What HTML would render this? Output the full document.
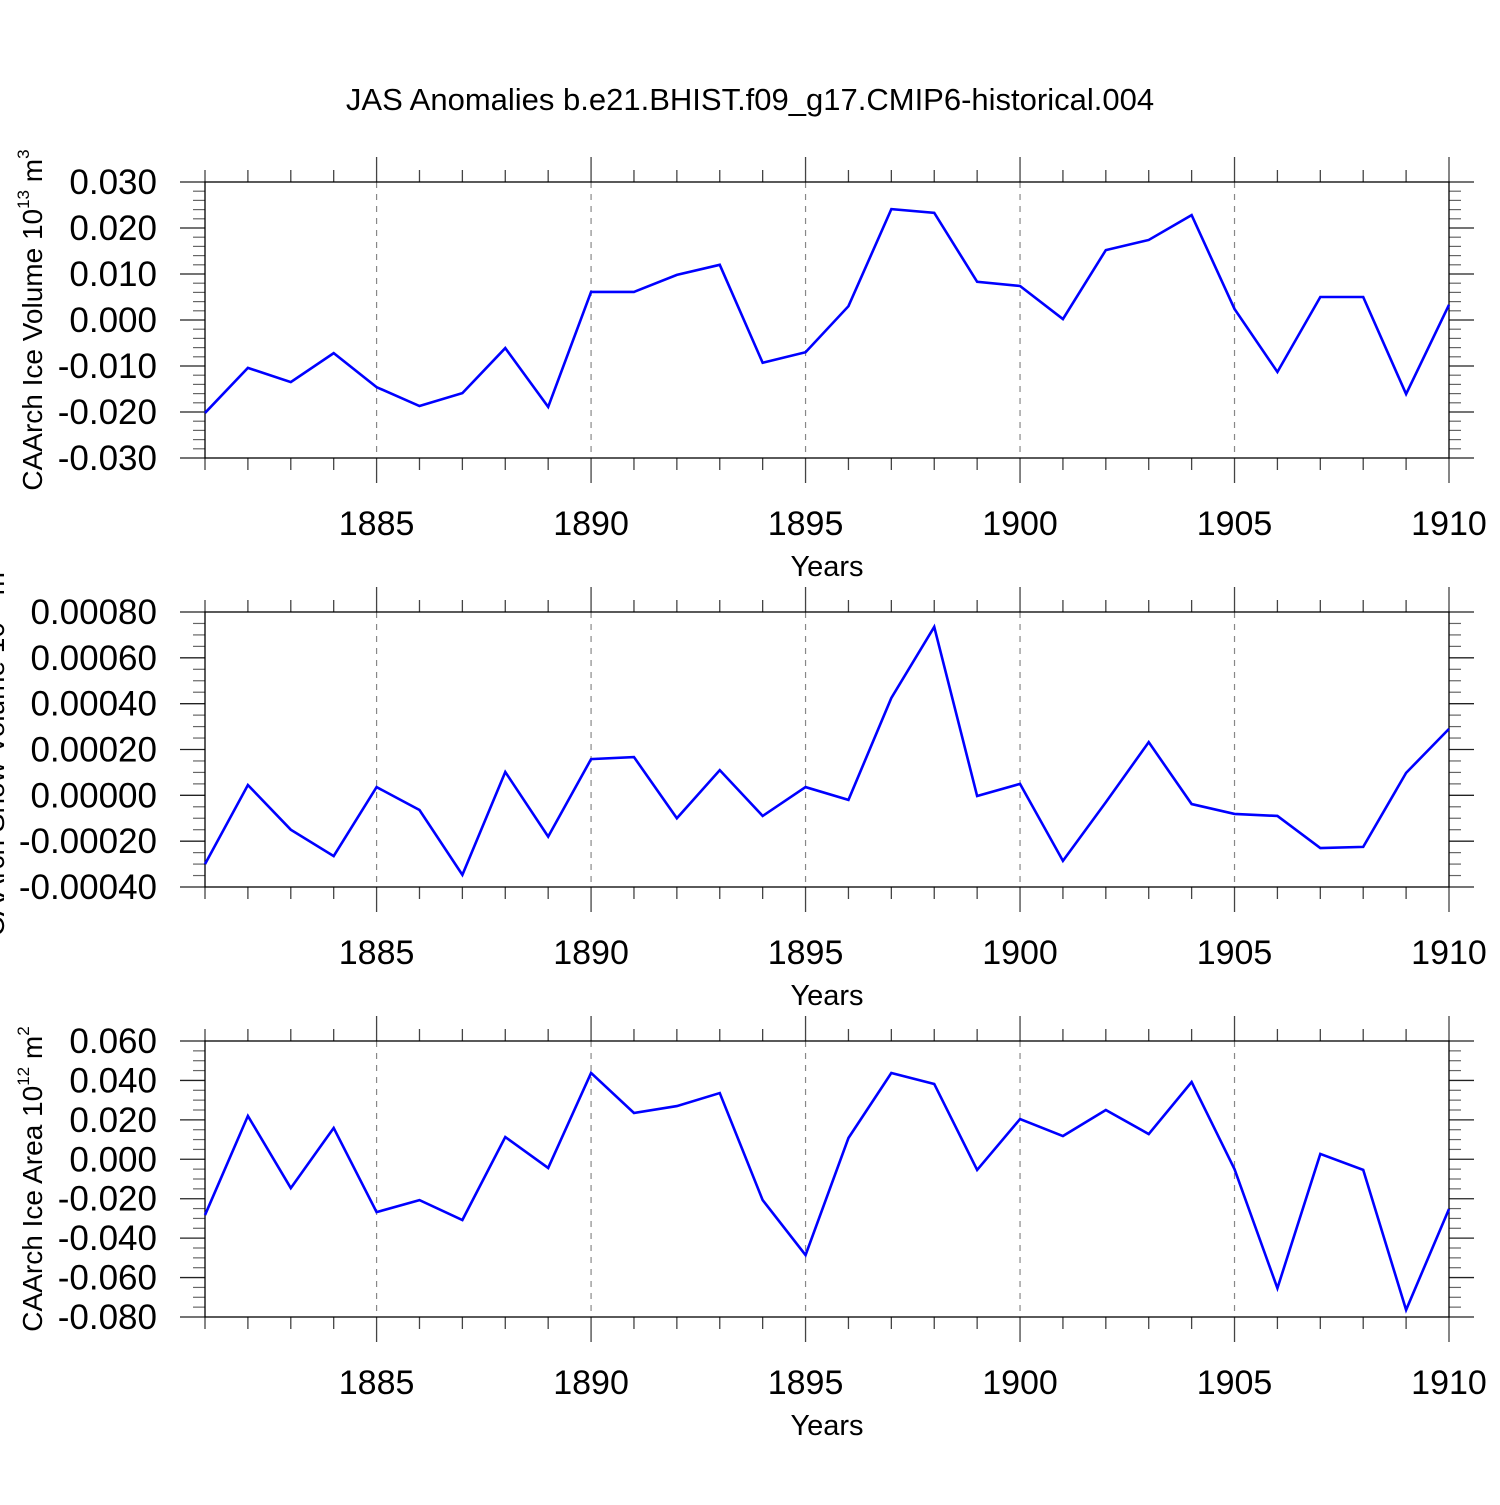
<!DOCTYPE html>
<html><head><meta charset="utf-8"><style>
body{margin:0;background:#fff}
svg text{font-family:"Liberation Sans",sans-serif;fill:#000}
</style></head><body>
<svg id="c" width="1500" height="1500" viewBox="0 0 1500 1500" xmlns="http://www.w3.org/2000/svg">
<text x="750" y="110" font-size="31" text-anchor="middle">JAS Anomalies b.e21.BHIST.f09_g17.CMIP6-historical.004</text>
</svg>
<script>
const years=[1881,1882,1883,1884,1885,1886,1887,1888,1889,1890,1891,1892,1893,1894,1895,1896,1897,1898,1899,1900,1901,1902,1903,1904,1905,1906,1907,1908,1909,1910];
const iceVolume=[-0.0202,-0.0104,-0.0135,-0.0072,-0.0146,-0.0187,-0.0159,-0.0061,-0.0189,0.0061,0.0061,0.0098,0.0120,-0.0093,-0.0070,0.0030,0.0241,0.0233,0.0083,0.0074,0.0002,0.0152,0.0174,0.0228,0.0024,-0.0113,0.0050,0.0050,-0.0161,0.0033];
const snowVolume=[-0.00030,0.000045,-0.00015,-0.000265,0.000036,-0.000064,-0.000347,0.000102,-0.00018,0.000158,0.000167,-0.0001,0.00011,-0.00009,0.000036,-0.00002,0.000425,0.000735,-0.000003,0.00005,-0.000286,-0.00003,0.000232,-0.000038,-0.000081,-0.00009,-0.00023,-0.000225,0.000098,0.00029];
const iceArea=[-0.0283,0.022,-0.0146,0.0159,-0.0268,-0.0207,-0.0308,0.0113,-0.0044,0.0438,0.0235,0.027,0.0336,-0.0207,-0.0486,0.0108,0.0438,0.0382,-0.0054,0.0204,0.0118,0.025,0.0128,0.0392,-0.005,-0.0654,0.0027,-0.0054,-0.0764,-0.0252];
const xTicks=[1885,1890,1895,1900,1905,1910];
const ticks1=[0.03,0.02,0.01,0,-0.01,-0.02,-0.03];
const labels1=["0.030","0.020","0.010","0.000","-0.010","-0.020","-0.030"];
const ticks2=[0.0008,0.0006,0.0004,0.0002,0,-0.0002,-0.0004];
const labels2=["0.00080","0.00060","0.00040","0.00020","0.00000","-0.00020","-0.00040"];
const ticks3=[0.06,0.04,0.02,0,-0.02,-0.04,-0.06,-0.08];
const labels3=["0.060","0.040","0.020","0.000","-0.020","-0.040","-0.060","-0.080"];

const svg=document.getElementById('c');
const NS='http://www.w3.org/2000/svg';
const X0=205,X1=1449;
function xs(y){return X0+(y-1881)/(1910-1881)*(X1-X0);}
function mk(tag,attrs,parent){const e=document.createElementNS(NS,tag);for(const k in attrs)e.setAttribute(k,attrs[k]);(parent||svg).appendChild(e);return e;}

function panel(id,top,bot,vals,tk,lb,ymax,ymin,minorN,title,sup,unit,titleY){
  const g=mk('g',{});
  
  
  const ys=v=>top+(ymax-v)/(ymax-ymin)*(bot-top);
  xTicks.forEach(t=>{if(t<1910){const l=mk('line',{x1:xs(t),x2:xs(t),y1:top,y2:bot,stroke:'#888','stroke-width':1.2,'stroke-dasharray':'6,6'},g);
  
  }});
  for(let y=1881;y<=1910;y++){
    const maj=xTicks.includes(y);const L=maj?25:12;const x=xs(y);
    mk('line',{x1:x,x2:x,y1:top-L,y2:top,stroke:'#444','stroke-width':1.3},g);
    mk('line',{x1:x,x2:x,y1:bot,y2:bot+L,stroke:'#444','stroke-width':1.3},g);
  }
  const step=tk[0]-tk[1];
  for(let i=0;i<tk.length;i++){
    const v=tk[i],y=ys(v);
    mk('line',{x1:180,x2:X0,y1:y,y2:y,stroke:'#222','stroke-width':1.3},g);
    mk('line',{x1:X1,x2:X1+25,y1:y,y2:y,stroke:'#222','stroke-width':1.3},g);
    if(i<tk.length-1){for(let m=1;m<=minorN;m++){const yy=ys(v-step*m/(minorN+1));
      mk('line',{x1:193,x2:X0,y1:yy,y2:yy,stroke:'#666','stroke-width':1.2},g);
      mk('line',{x1:X1,x2:X1+12,y1:yy,y2:yy,stroke:'#666','stroke-width':1.2},g);}}
    const t=mk('text',{x:157,y:y+12,'font-size':35,'text-anchor':'end'},g);
    t.textContent=lb[i];
    
    
  }
  const fr=mk('rect',{x:X0,y:top,width:X1-X0,height:bot-top,fill:'none',stroke:'#000','stroke-width':1.3},g);
  
  
  xTicks.forEach(t=>{const tx=mk('text',{x:xs(t),y:bot+77,'font-size':34,'text-anchor':'middle'},g);tx.textContent=t;
    
    });
  const xt=mk('text',{x:827,y:bot+118,'font-size':29,'text-anchor':'middle'},g);xt.textContent='Years';
  
  
  const yt=mk('text',{x:0,y:0,'font-size':28,'text-anchor':'middle',transform:`translate(${titleY},${(top+bot)/2}) rotate(-90)`},g);
  yt.innerHTML=title+' 10<tspan font-size="17" dy="-13">'+sup+'</tspan><tspan dy="13"> m</tspan><tspan font-size="17" dy="-13">'+unit+'</tspan>';
  
  
  const pts=vals.map((v,i)=>xs(years[i])+','+ys(v)).join(' ');
  const pl=mk('polyline',{points:pts,fill:'none',stroke:'#0000ff','stroke-width':2.6,'stroke-linejoin':'miter'},g);
  
  
}
panel('ice-volume',182,458,iceVolume,ticks1,labels1,0.03,-0.03,4,'CAArch Ice Volume','13','3',42);
panel('snow-volume',612,887,snowVolume,ticks2,labels2,0.0008,-0.0004,3,'CAArch Snow Volume','13','3',4);
panel('ice-area',1041,1317,iceArea,ticks3,labels3,0.06,-0.08,3,'CAArch Ice Area','12','2',42);
</script>
</body></html>
